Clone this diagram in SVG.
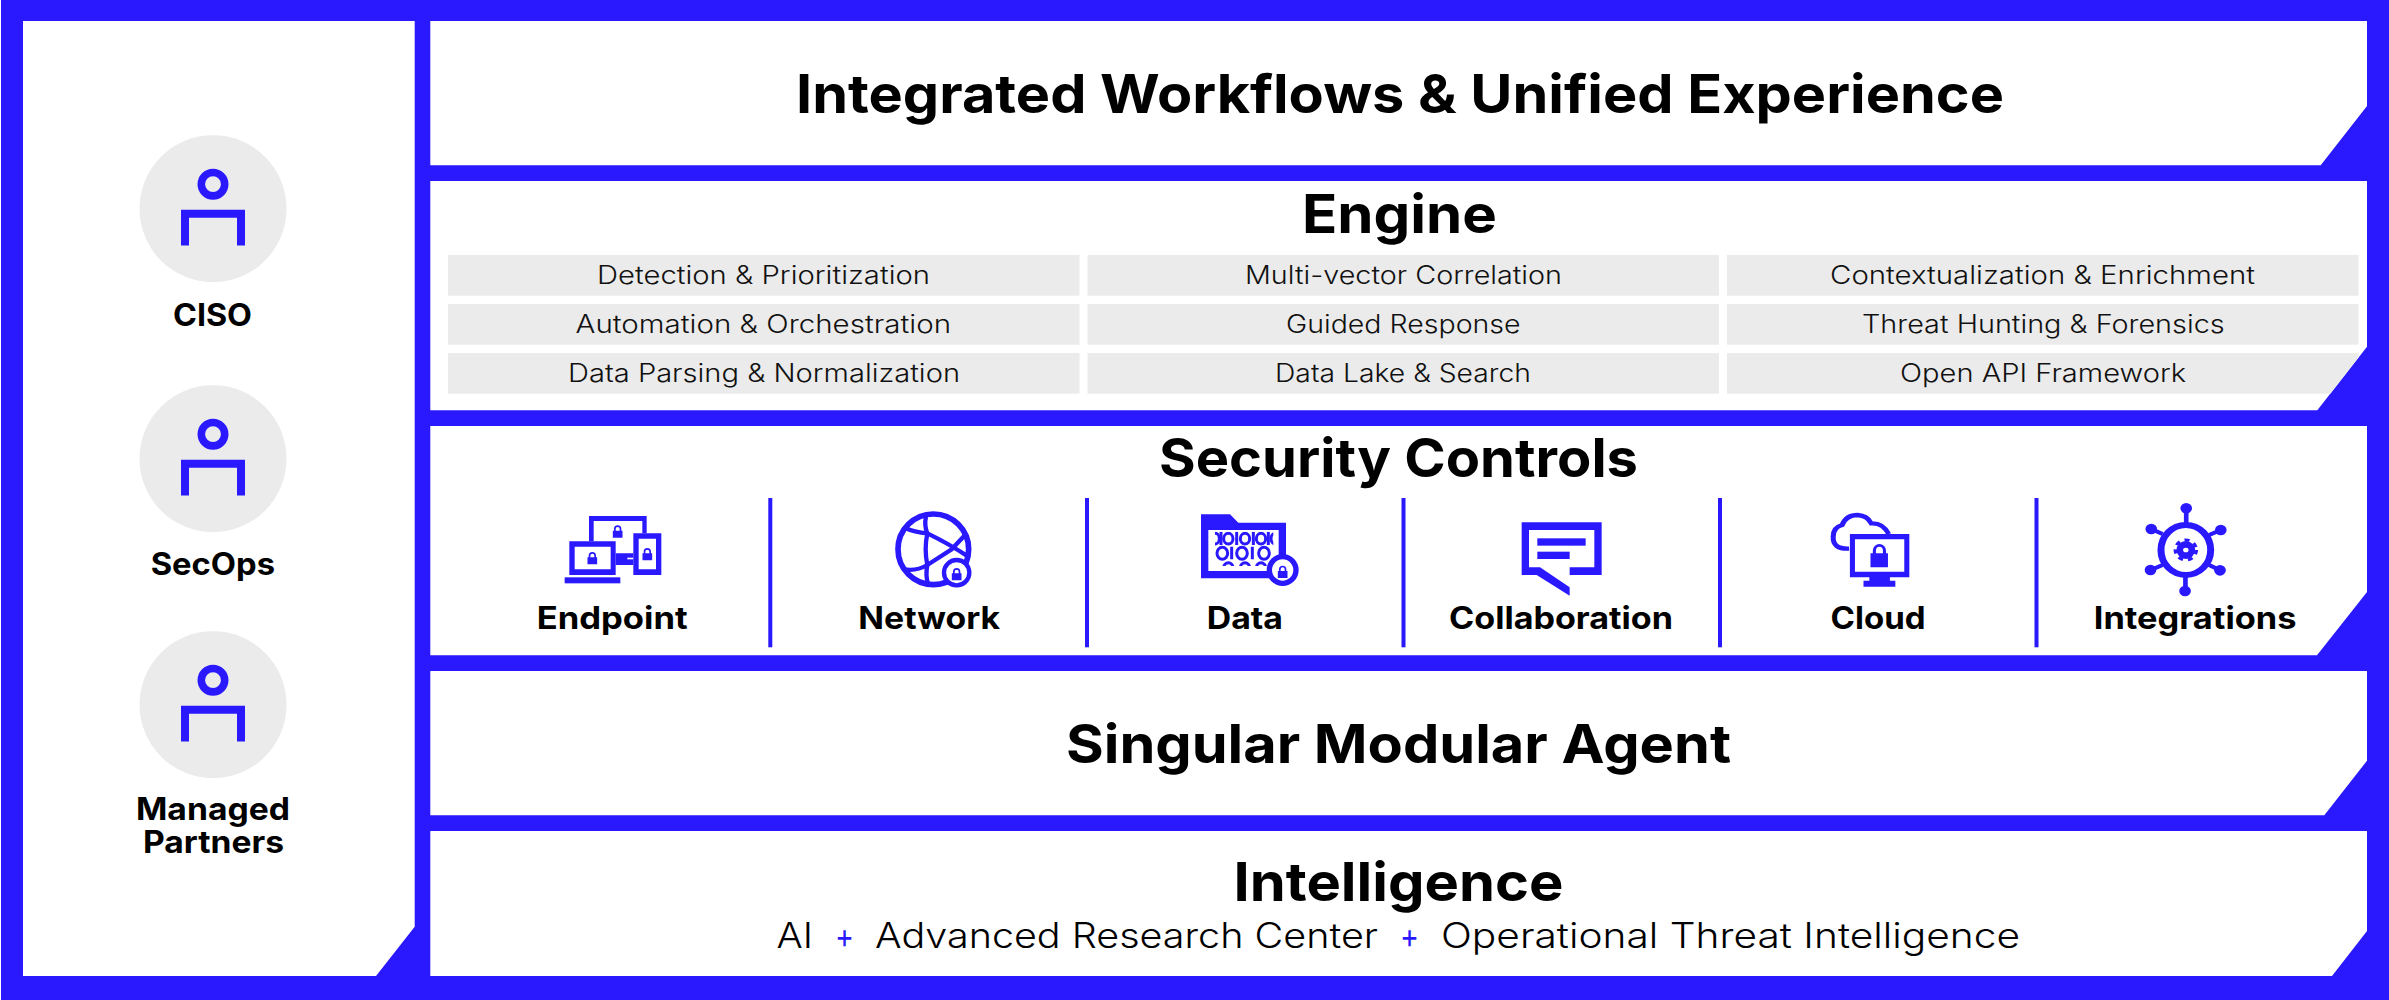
<svg xmlns="http://www.w3.org/2000/svg" width="2389" height="1000" viewBox="0 0 2389 1000">
<style>
text{font-family:"Inter","Noto Sans","Liberation Sans",sans-serif;fill:#000}
.h{font-size:54px;font-weight:700}
.l{font-size:31px;font-weight:700}
.g{font-size:25px;font-weight:300;fill:#111}
.s{font-size:35px;font-weight:300}
.p{font-size:34px;font-weight:400;fill:#2a19ff}
.b{fill:#2a19ff}
.w{fill:#fff}
.c{fill:#ebebeb}
.ln{fill:none;stroke:#2a19ff;stroke-width:13}
.d{fill:#2a19ff}
</style>
<defs>
<g id="person">
<circle cx="0" cy="0" r="73.5" class="c"/>
<circle cx="0" cy="-24.5" r="11.7" fill="none" stroke="#2a19ff" stroke-width="7.6"/>
<path class="b" d="M-32 1H32V36.7H24V9H-24V36.7H-32Z"/>
</g>
<path id="lock" class="b" d="M-14.5 -7H-11V-12A11 11 0 0 1 11 -12V-7H14.5V14H-14.5ZM-6 -7H6V-12A6 6 0 0 0 -6 -12Z" fill-rule="evenodd"/>
<clipPath id="binclip"><rect x="165" y="125" width="175" height="103"/></clipPath>
</defs>
<rect width="2389" height="1000" fill="#fff"/>
<rect x="1" y="0" width="2388" height="1000" class="b"/>

<g id="panel-left">
<polygon class="w" points="23,21 414.7,21 414.7,926.7 376,976 23,976"/>
</g>

<g id="persona-ciso">
<use href="#person" x="213" y="208.7"/>
<text class="l" x="173" y="325.5" textLength="79" lengthAdjust="spacingAndGlyphs">CISO</text>
</g>
<g id="persona-secops">
<use href="#person" x="213" y="458.7"/>
<text class="l" x="150.7" y="574.5" textLength="124.3" lengthAdjust="spacingAndGlyphs">SecOps</text>
</g>
<g id="persona-partners">
<use href="#person" x="213" y="704.7"/>
<text class="l" x="136" y="819.7" textLength="154" lengthAdjust="spacingAndGlyphs">Managed</text>
<text class="l" x="143" y="853" textLength="141" lengthAdjust="spacingAndGlyphs">Partners</text>
</g>

<g id="layer-workflows">
<polygon class="w" points="430.3,21 2367,21 2367,106 2320.7,165.3 430.3,165.3"/>
<text class="h" x="796" y="112.5" textLength="1208" lengthAdjust="spacingAndGlyphs">Integrated Workflows &amp; Unified Experience</text>
</g>

<g id="layer-engine">
<polygon class="w" points="430.3,181 2367,181 2367,346.7 2317.3,410.3 430.3,410.3"/>
<text class="h" x="1302" y="232.5" textLength="195" lengthAdjust="spacingAndGlyphs">Engine</text>
<rect class="c" x="448" y="255" width="631.5" height="40.7"/>
<rect class="c" x="1087.5" y="255" width="631.5" height="40.7"/>
<rect class="c" x="1727" y="255" width="631.5" height="40.7"/>
<rect class="c" x="448" y="304" width="631.5" height="40.7"/>
<rect class="c" x="1087.5" y="304" width="631.5" height="40.7"/>
<rect class="c" x="1727" y="304" width="631.5" height="40.7"/>
<rect class="c" x="448" y="353" width="631.5" height="40.7"/>
<rect class="c" x="1087.5" y="353" width="631.5" height="40.7"/>
<polygon class="c" points="1727,353 2358.5,353 2358.5,357.6 2330.3,393.7 1727,393.7"/>
<text class="g" x="597" y="284.3" textLength="333" lengthAdjust="spacingAndGlyphs">Detection &amp; Prioritization</text>
<text class="g" x="1245" y="284.3" textLength="317" lengthAdjust="spacingAndGlyphs">Multi-vector Correlation</text>
<text class="g" x="1830" y="284.3" textLength="425" lengthAdjust="spacingAndGlyphs">Contextualization &amp; Enrichment</text>
<text class="g" x="575.6" y="333.3" textLength="375.4" lengthAdjust="spacingAndGlyphs">Automation &amp; Orchestration</text>
<text class="g" x="1286" y="333.3" textLength="234.6" lengthAdjust="spacingAndGlyphs">Guided Response</text>
<text class="g" x="1862" y="333.3" textLength="362.6" lengthAdjust="spacingAndGlyphs">Threat Hunting &amp; Forensics</text>
<text class="g" x="568" y="382.3" textLength="392" lengthAdjust="spacingAndGlyphs">Data Parsing &amp; Normalization</text>
<text class="g" x="1275" y="382.3" textLength="256" lengthAdjust="spacingAndGlyphs">Data Lake &amp; Search</text>
<text class="g" x="1900" y="382.3" textLength="286" lengthAdjust="spacingAndGlyphs">Open API Framework</text>
</g>

<g id="layer-controls">
<polygon class="w" points="430.3,426 2367,426 2367,592 2317,655.3 430.3,655.3"/>
<text class="h" x="1159" y="477" textLength="479" lengthAdjust="spacingAndGlyphs">Security Controls</text>
</g>

<g id="dividers">
<rect class="d" x="768.3" y="498" width="4" height="149.3"/>
<rect class="d" x="1085" y="498" width="4" height="149.3"/>
<rect class="d" x="1401.5" y="498" width="4" height="149.3"/>
<rect class="d" x="1718" y="498" width="4" height="149.3"/>
<rect class="d" x="2034.5" y="498" width="4" height="149.3"/>
</g>

<g id="control-endpoint">
<g transform="translate(520 490) scale(.33333)">
<path class="b" fill-rule="evenodd" d="M207 78H380V130H367V93H221V154H207ZM287 190H340V225H287Z"/>
<rect class="w" x="322" y="203" width="18" height="5"/>
<path class="b" fill-rule="evenodd" d="M340 130H424V255H340ZM356 146V238H408V146Z"/>
<path class="b" fill-rule="evenodd" d="M148 154H287V255H148ZM164 170V238H272V170Z"/>
<rect class="b" x="134" y="262" width="167" height="18"/>
<use href="#lock" x="293" y="129"/>
<use href="#lock" x="217" y="209"/>
<use href="#lock" x="382" y="197"/>
</g>
<text class="l" x="536.7" y="629" textLength="151" lengthAdjust="spacingAndGlyphs">Endpoint</text>
</g>

<g id="control-network">
<g transform="translate(520 490) scale(.33333)">
<circle class="ln" cx="1240" cy="178" r="106" style="stroke-width:17"/>
<path class="ln" d="M1218 80Q1212 105 1222 130Q1212 178 1222 225Q1216 255 1224 282"/>
<path class="ln" d="M1150 112Q1185 128 1222 130Q1285 160 1345 200"/>
<path class="ln" d="M1152 238Q1190 244 1222 225L1295 178L1338 132"/>
<circle cx="1310" cy="248" r="38" fill="#fff" stroke="#2a19ff" stroke-width="13"/>
<use href="#lock" x="1310" y="257"/>
</g>
<text class="l" x="858.3" y="629" textLength="141.7" lengthAdjust="spacingAndGlyphs">Network</text>
</g>

<g id="control-data">
<g transform="translate(1160 490) scale(.33333)">
<path class="b" fill-rule="evenodd" d="M123 73H210L235 98H378V265H123ZM145 120V243H356V120Z"/>
<g clip-path="url(#binclip)" fill="none" stroke="#2a19ff" stroke-width="9">
<path d="M183 125V165M230 125V165M280 125V165M325 125V165"/>
<ellipse cx="205" cy="146" rx="14" ry="16"/>
<ellipse cx="255" cy="146" rx="14" ry="16"/>
<ellipse cx="303" cy="146" rx="14" ry="16"/>
<ellipse cx="166" cy="146" rx="12" ry="16"/>
<ellipse cx="345" cy="146" rx="12" ry="16"/>
<path d="M215 170V208M277 170V208"/>
<ellipse cx="187" cy="190" rx="16" ry="18"/>
<ellipse cx="246" cy="190" rx="16" ry="18"/>
<ellipse cx="312" cy="190" rx="16" ry="18"/>
<ellipse cx="205" cy="234" rx="14" ry="16"/>
<ellipse cx="255" cy="234" rx="14" ry="16"/>
<ellipse cx="303" cy="234" rx="14" ry="16"/>
</g>
<circle cx="368" cy="240" r="40" fill="#fff" stroke="#2a19ff" stroke-width="16"/>
<use href="#lock" x="368" y="250"/>
</g>
<text class="l" x="1206.7" y="629" textLength="76.3" lengthAdjust="spacingAndGlyphs">Data</text>
</g>

<g id="control-collaboration">
<g transform="translate(1160 490) scale(.33333)">
<path class="b" d="M1085 97H1325V255H1229V232H1303V120H1107V232H1140L1229 292V317L1130 255H1085Z"/>
<rect class="b" x="1132" y="145" width="145" height="22"/>
<rect class="b" x="1132" y="185" width="97" height="22"/>
</g>
<text class="l" x="1449" y="629" textLength="224" lengthAdjust="spacingAndGlyphs">Collaboration</text>
</g>

<g id="control-cloud">
<g transform="translate(1780 490) scale(.38835 .33333)">
<path d="M178 176Q135 178 137 140Q137 112 160 105Q170 75 200 75Q225 77 235 100Q265 98 280 132" fill="none" stroke="#2a19ff" stroke-width="13"/>
<path class="b" fill-rule="evenodd" d="M180 132H333V262H283V272H297V290H215V272H230V262H180ZM193 148V245H320V148Z"/>
<path class="b" fill-rule="evenodd" d="M233 190H239V182A17 20 0 0 1 273 182V190H278V232H233ZM247 190H265V182A9 12 0 0 0 247 182Z"/>
</g>
<text class="l" x="1830.5" y="629" textLength="95" lengthAdjust="spacingAndGlyphs">Cloud</text>
</g>

<g id="control-integrations">
<g transform="translate(1780 490) scale(.38835 .33333)">
<ellipse cx="1045" cy="180" rx="64" ry="75" fill="none" stroke="#2a19ff" stroke-width="18"/>
<path d="M1046 100V55M1044 260V303M985 132L956 117M1105 135L1135 120M985 225L955 240M1105 225L1133 241" fill="none" stroke="#2a19ff" stroke-width="12"/>
<ellipse class="b" cx="1046" cy="55" rx="15" ry="16"/>
<ellipse class="b" cx="1043" cy="303" rx="15" ry="16"/>
<ellipse class="b" cx="956" cy="117" rx="15" ry="16"/>
<ellipse class="b" cx="1135" cy="120" rx="15" ry="16"/>
<ellipse class="b" cx="954" cy="240" rx="15" ry="16"/>
<ellipse class="b" cx="1133" cy="241" rx="15" ry="16"/>
<ellipse class="b" cx="1045" cy="180" rx="24" ry="27"/>
<ellipse cx="1045" cy="180" rx="27" ry="30" fill="none" stroke="#2a19ff" stroke-width="9" stroke-dasharray="13 13"/>
<ellipse class="w" cx="1045" cy="180" rx="7" ry="7"/>
</g>
<text class="l" x="2093.8" y="629" textLength="202.7" lengthAdjust="spacingAndGlyphs">Integrations</text>
</g>

<g id="layer-agent">
<polygon class="w" points="430.3,671 2367,671 2367,760.7 2324.3,815.3 430.3,815.3"/>
<text class="h" x="1066" y="762.5" textLength="665" lengthAdjust="spacingAndGlyphs">Singular Modular Agent</text>
</g>

<g id="layer-intelligence">
<polygon class="w" points="430.3,831 2367,831 2367,931 2332,976 430.3,976"/>
<text class="h" x="1233.5" y="900.5" textLength="330" lengthAdjust="spacingAndGlyphs">Intelligence</text>
<text class="s" x="776.5" y="948" textLength="36.5" lengthAdjust="spacingAndGlyphs">AI</text>
<text class="p" x="835" y="948" textLength="19" lengthAdjust="spacingAndGlyphs">+</text>
<text class="s" x="875" y="948" textLength="503" lengthAdjust="spacingAndGlyphs">Advanced Research Center</text>
<text class="p" x="1400" y="948" textLength="19" lengthAdjust="spacingAndGlyphs">+</text>
<text class="s" x="1441" y="948" textLength="579" lengthAdjust="spacingAndGlyphs">Operational Threat Intelligence</text>
</g>
</svg>
